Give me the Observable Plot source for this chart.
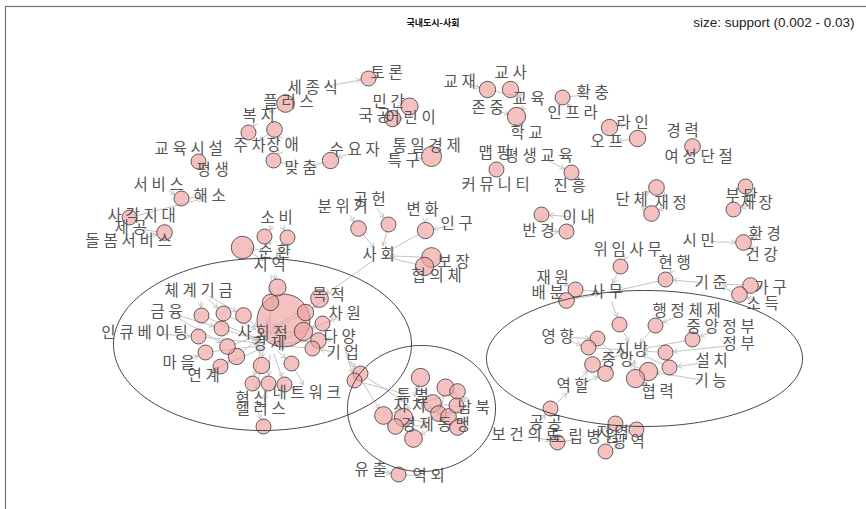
<!DOCTYPE html>
<html><head><meta charset="utf-8">
<script src="https://cdn.jsdelivr.net/npm/d3@7"></script>
<script src="https://cdn.jsdelivr.net/npm/@observablehq/plot@0.6"></script>
<style>
html,body{margin:0;padding:0;background:#fff;}
#chart{width:866px;height:509px;overflow:hidden;}
</style></head><body><div id="chart"></div>
<script>
const title = "국내도시-사회";
const sizeLegend = "size: support (0.002 - 0.03)";

// item labels: [id, x, y, text]
const items = [
["토론",388,73],["세종식",314,88],["민간",390,102],["플러스",290,102],["국공",376,116],["어린이",412,118],
["복지",260,116],["교육시설",190,149],["주차",251,146],["장애",284,145],["평생",214,170],["맞춤",302,168],
["수요자",356,150],["통일경제",428,146],["특구",405,161],["교재",461,82],["교사",512,73],["교육",530,99],
["확충",594,93],["존중",489,108],["인프라",574,113],["학교",528,133],["라인",634,123],["오프",608,142],
["경력",684,131],["여성단절",700,157],["맵핑",496,153],["평생교육",540,156],["커뮤니티",497,185],["진흥",571,186],
["서비스",160,185],["해소",211,196],["사각지대",143,216],["제공",132,228],["돌봄서비스",130,241],
["소비",278,218],["순환",276,252],["지역",271,265],["분위기",344,207],["공헌",371,200],["변화",424,210],
["인구",458,224],["사회",380,255],["보장",455,262],["협의체",438,276],["이내",580,217],["반경",540,231],
["단체",633,200],["재정",672,203],["부단",743,196],["제장",758,203],["시민",700,241],["환경",766,234],
["건강",763,255],["위임사무",629,250],["현행",676,263],["기준",712,283],["가구",772,288],["소득",764,304],
["재원",554,278],["배분",549,293],["사무",608,292],["행정체제",688,311],["중앙정부",722,327],["정부",740,344],
["영향",559,337],["지방",633,350],["중앙",619,360],["설치",713,361],["기능",712,381],["협력",659,392],
["역할",574,386],["공공",547,423],["보건의료",527,435],["도립병원",586,437],["지역b",614,433,"지역"],["광역",630,442],
["유출",372,470],["역외",430,476],["특별",414,396],["자치",411,406],["경제동맹",437,425],["남북",475,408],
["체계기금",200,291],["금융",168,312],["인큐베이팅",146,333],["마을",180,363],["연계",205,376],
["사회적",264,333],["경제",270,344],["목적",330,295],["차원",346,314],["다양",341,337],["기업",344,353],
["네트워크",308,393],["혁신",253,399],["헬러스",262,409]
];

// rule nodes: [id, x, y, support, lhs items, rhs item]
const rules = [
["R1",368,78,.002,["세종식"],"토론"],["R2",409,106,.0026,["민간"],"어린이"],["R3",392,118,.0024,["국공"],"어린이"],
["R4",285,103,.0028,["플러스"],"복지"],["R5",248,132,.002,["복지"],"주차"],["R6",274,129,.0022,["장애"],"주차"],
["R7",198,161,.002,["교육시설"],"평생"],["R8",273,160,.002,["장애"],"맞춤"],["R9",330,160,.0024,["수요자"],"맞춤"],
["R10",431,156,.0036,["통일경제"],"특구"],["R11",487,89,.0024,["교재"],"교육"],["R12",510,89,.0024,["교사"],"교육"],
["R13",562,97,.002,["인프라"],"확충"],["R14",516,116,.003,["존중","교육"],"학교"],["R15",609,127,.0024,["오프"],"라인"],
["R16",637,138,.0024,["라인"],"오프"],["R17",692,146,.0022,["경력"],"여성단절"],["R18",496,169,.002,["맵핑"],"커뮤니티"],
["R19",571,172,.002,["평생교육"],"진흥"],["R20",181,198,.002,["서비스"],"해소"],["R21",129,217,.002,["사각지대"],"해소"],
["R22",164,232,.0022,["돌봄서비스"],"제공"],["R23",264,236,.002,["소비"],"순환"],["R24",287,237,.002,["소비"],"지역"],
["R25",242,247,.0045,["순환"],"지역"],["R26",358,228,.0022,["분위기"],"사회"],["R27",388,224,.002,["공헌"],"사회"],
["R28",425,230,.0024,["변화","인구"],"사회"],["R29",431,257,.0035,["보장"],"사회"],["R30",424,266,.003,["협의체"],"사회"],
["R31",541,214,.002,["이내"],"반경"],["R32",566,231,.002,["반경"],"이내"],["R33",656,187,.0022,["단체"],"재정"],
["R34",651,213,.0022,["재정"],"단체"],["R35",745,186,.002,["부단"],"제장"],["R36",733,209,.002,["제장"],"부단"],
["R37",743,242,.0022,["시민","건강"],"환경"],["R38",620,266,.002,["위임사무"],"사무"],["R39",665,279,.002,["기준","현행"],"사무"],
["R40",750,285,.0022,["가구"],"기준"],["R41",739,294,.0022,["소득"],"기준"],["R42",575,289,.002,["재원"],"사무"],
["R43",566,300,.0022,["배분"],"사무"],
["L1",277,287,.0026,["지역"],"사회적"],["L2",270,302,.0024,["지역"],"경제"],["L3",319,298,.0028,["목적","사회"],"사회적"],
["L4",283,320,.025,["경제"],"사회적"],["L5",201,315,.002,["체계기금"],"경제"],["L6",223,313,.002,["체계기금"],"사회적"],
["L7",243,315,.0022,["체계기금"],"사회적"],["L8",221,328,.002,["금융"],"경제"],["L9",198,336,.002,["인큐베이팅"],"경제"],
["L10",305,312,.0024,["목적"],"사회적"],["L11",322,323,.002,["차원"],"경제"],["L12",303,331,.003,["차원"],"사회적"],
["L13",318,340,.0022,["다양"],"경제"],["L14",312,348,.002,["기업"],"경제"],["L15",227,346,.0022,["금융"],"사회적"],
["L16",205,352,.002,["마을"],"경제"],["L17",236,356,.0024,["연계"],"사회적"],["L18",220,366,.002,["연계"],"경제"],
["L19",261,365,.0024,["사회적"],"혁신"],["L20",291,363,.002,["경제"],"네트워크"],["L21",252,383,.002,["사회적"],"혁신"],
["L22",268,383,.002,["경제"],"헬러스"],["L23",284,384,.002,["경제"],"네트워크"],["L24",360,373,.002,["기업"],"자치"],
["L25",354,380,.002,["다양"],"특별"],["L26",263,426,.002,["혁신"],"헬러스"],
["M1",420,377,.003,["특별"],"자치"],["M2",445,387,.0026,["남북"],"경제동맹"],["M3",457,391,.0022,["남북"],"자치"],
["M4",432,403,.0028,["자치"],"남북"],["M5",456,405,.002,["경제동맹"],"남북"],["M6",438,413,.0022,["특별"],"남북"],
["M7",448,416,.0022,["자치"],"경제동맹"],["M8",383,415,.0028,["기업"],"자치"],["M9",403,417,.003,["특별"],"경제동맹"],
["M10",395,426,.0022,["자치"],"경제동맹"],["M11",457,427,.0022,["남북"],"경제동맹"],["M12",413,438,.0028,["경제동맹"],"자치"],
["M13",398,474,.002,["유출"],"역외"],
["P1",619,324,.002,["사무"],"지방"],["P2",655,325,.002,["행정체제"],"지방"],["P3",597,338,.002,["영향"],"중앙"],
["P4",588,347,.002,["영향"],"지방"],["P5",692,339,.002,["중앙정부"],"지방"],["P6",665,352,.002,["정부"],"지방"],
["P7",592,364,.0022,["역할"],"지방"],["P8",605,373,.0022,["역할"],"중앙"],["P9",669,367,.002,["설치"],"지방"],
["P10",648,371,.003,["기능"],"중앙"],["P11",635,378,.003,["협력"],"지방"],["P12",550,408,.002,["공공","보건의료"],"역할"],
["P13",615,423,.002,["도립병원"],"지역b"],["P14",636,429,.002,["광역"],"지역b"],["P15",557,442,.002,["보건의료"],"도립병원"],
["P16",605,451,.002,["지역b"],"광역"]
];

// cluster ellipses: [cx, cy, rx, ry]
const clusters = [[262,344,149,86],[421,408,74,63],[644,358,158,68]];

const itemData = items.map(([id,x,y,t]) => ({id, x, y, text: t ?? id}));
const itemById = new Map(itemData.map(d => [d.id, d]));
const ruleData = rules.map(([id,x,y,support,lhs,rhs]) => ({id,x,y,support,lhs,rhs}));
const inEdges = ruleData.flatMap(r => r.lhs.map(l => ({x1: itemById.get(l).x, y1: itemById.get(l).y, x2: r.x, y2: r.y})));
const outEdges = ruleData.map(r => ({x1: r.x, y1: r.y, x2: itemById.get(r.rhs).x, y2: itemById.get(r.rhs).y}));
const ellipsePts = clusters.flatMap(([cx,cy,rx,ry], k) =>
  d3.range(0, 361, 2).map(a => ({k, x: cx + rx*Math.cos(a*Math.PI/180), y: cy + ry*Math.sin(a*Math.PI/180)})));

const edgeStyle = {x1:"x1", y1:"y1", x2:"x2", y2:"y2", stroke:"#c4c4c4", strokeWidth:1, headLength:7};

const plot = Plot.plot({
  width: 866, height: 509,
  marginTop: 6, marginLeft: 5, marginRight: 0, marginBottom: 0,
  x: {domain: [5, 866], axis: null},
  y: {domain: [6, 509], reverse: true, axis: null},
  r: {type: "sqrt", domain: [0, 0.03], range: [0, 29]},
  style: {fontFamily: "'Noto Sans CJK KR', sans-serif", background: "#fff"},
  marks: [
    Plot.frame({stroke: "#777", strokeWidth: 1.2, insetRight: -10, insetBottom: -10}),
    Plot.arrow(inEdges, {...edgeStyle, insetStart: 10, insetEnd: 8}),
    Plot.arrow(outEdges, {...edgeStyle, insetStart: 7, insetEnd: 10}),
    Plot.dot(ruleData, {x:"x", y:"y", r:"support", fill:"#ee9f9f", fillOpacity:0.66, stroke:"#3a3a3a", strokeWidth:0.8}),
    Plot.text(itemData, {x:"x", y:"y", text:"text", fontSize:15.5, fill:"#555", fontFamily:"'Noto Sans CJK KR', sans-serif"}),
    Plot.line(ellipsePts, {x:"x", y:"y", z:"k", stroke:"#333", strokeWidth:0.9}),
    Plot.text([title], {frameAnchor:"top", dx:-3, dy:13, fontSize:9, fontWeight:"bold", fill:"#111"}),
    Plot.text([sizeLegend], {frameAnchor:"top-right", textAnchor:"end", dx:-12, dy:11, fontSize:13.5, fill:"#222", fontFamily:"'Liberation Sans', Arial, sans-serif"})
  ]
});
const labelSet = new Set(itemData.map(d => d.text));
d3.select(plot).selectAll("text").filter(function(){ return labelSet.has(this.textContent); })
  .style("letter-spacing", "3.8px");
document.getElementById("chart").appendChild(plot);
</script></body></html>
